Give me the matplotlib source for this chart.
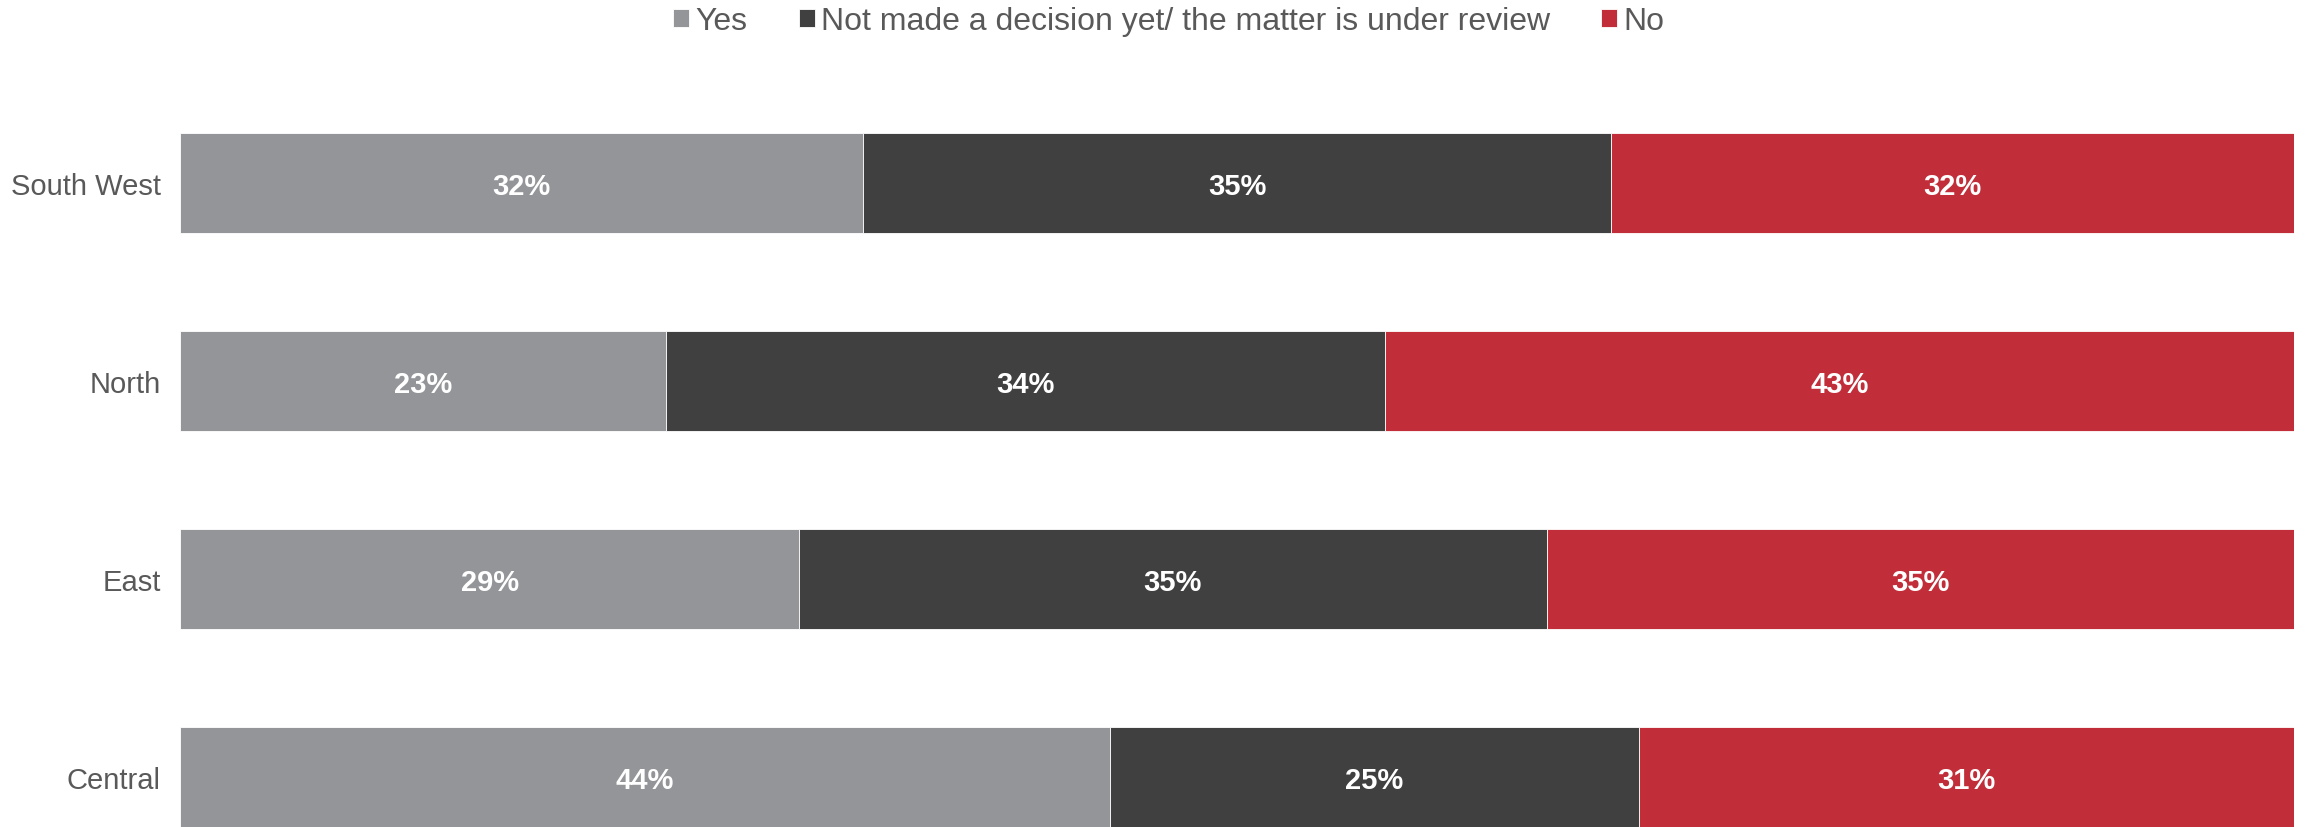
import numpy as np
import matplotlib
matplotlib.use('Agg')
from matplotlib import pyplot as plt

plt.rcParams['font.family'] = ['Liberation Sans', 'DejaVu Sans']

regions = ['Central', 'East', 'North', 'South West']
yes = [44, 29, 23, 32]
undecided = [25, 35, 34, 35]
no = [31, 35, 43, 32]
series_names = ['Yes', 'Not made a decision yet/ the matter is under review', 'No']
colors = ['#939598', '#404040', '#c12e39']

data = np.array([yes, undecided, no], dtype=float)
shares = data / data.sum(axis=0)

fig = plt.figure(figsize=(23.1, 8.28), dpi=100)
ax = fig.add_axes([180/2310, 0, 2114/2310, 694/828])

ypos = np.arange(len(regions))
bar_h = 0.505
left = np.zeros(len(regions))
handles = []
for i in range(3):
    bars = ax.barh(ypos, shares[i], height=bar_h, left=left, color=colors[i],
                   edgecolor='white', linewidth=0.6, label=series_names[i])
    handles.append(bars)
    for j in range(len(regions)):
        ax.text(left[j] + shares[i][j]/2, ypos[j], '%d%%' % data[i][j],
                ha='center', va='center_baseline', color='white', fontsize=21, fontweight='bold')
    left += shares[i]

ax.set_xlim(0, 1)
ax.set_ylim(-bar_h/2, 3 + bar_h/2)
ax.set_yticks(ypos)
ax.set_yticklabels(regions, fontsize=21, color='#595959')
ax.tick_params(axis='y', length=0, pad=14)
ax.set_xticks([])
for s in ax.spines.values():
    s.set_visible(False)

leg = fig.legend(handles=handles, loc='center', bbox_to_anchor=(0.506, 0.973), ncol=3,
                 frameon=False, fontsize=23, handlelength=0.5, handleheight=0.5,
                 handletextpad=0.2, columnspacing=1.6, borderpad=0)
for t in leg.get_texts():
    t.set_color('#595959')

fig.savefig('out.png', dpi=100)
